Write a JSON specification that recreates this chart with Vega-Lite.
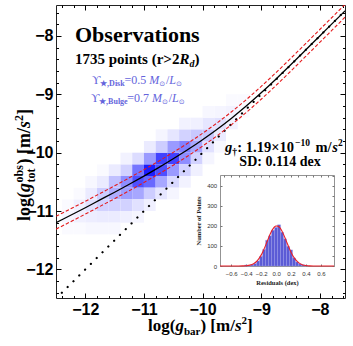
{
"$schema": "https://vega.github.io/schema/vega-lite/v6.json",
"width": 289, "height": 293,
"autosize": {"type": "none"},
"padding": {"left": 56, "top": 5, "right": 8, "bottom": 48},
"background": "white",
"config": {"view": {"stroke": "#222", "strokeWidth": 1}, "axis": {"grid": false}, "text": {"font": "Liberation Serif"}},
"datasets": {
"heat": [
{"lo_bar":-12.4,"hi_bar":-12.2,"lo_obs":-11.2,"hi_obs":-11.0,"n":4},
{"lo_bar":-12.4,"hi_bar":-12.2,"lo_obs":-11.0,"hi_obs":-10.8,"n":2},
{"lo_bar":-12.4,"hi_bar":-12.2,"lo_obs":-11.4,"hi_obs":-11.2,"n":2},
{"lo_bar":-12.2,"hi_bar":-12.0,"lo_obs":-11.2,"hi_obs":-11.0,"n":6},
{"lo_bar":-12.2,"hi_bar":-12.0,"lo_obs":-11.0,"hi_obs":-10.8,"n":6},
{"lo_bar":-12.2,"hi_bar":-12.0,"lo_obs":-10.8,"hi_obs":-10.6,"n":2},
{"lo_bar":-12.2,"hi_bar":-12.0,"lo_obs":-11.4,"hi_obs":-11.2,"n":2},
{"lo_bar":-12.0,"hi_bar":-11.8,"lo_obs":-11.0,"hi_obs":-10.8,"n":12},
{"lo_bar":-12.0,"hi_bar":-11.8,"lo_obs":-11.2,"hi_obs":-11.0,"n":7},
{"lo_bar":-12.0,"hi_bar":-11.8,"lo_obs":-10.8,"hi_obs":-10.6,"n":8},
{"lo_bar":-12.0,"hi_bar":-11.8,"lo_obs":-10.6,"hi_obs":-10.4,"n":3},
{"lo_bar":-12.0,"hi_bar":-11.8,"lo_obs":-11.4,"hi_obs":-11.2,"n":3},
{"lo_bar":-11.8,"hi_bar":-11.6,"lo_obs":-10.8,"hi_obs":-10.6,"n":20},
{"lo_bar":-11.8,"hi_bar":-11.6,"lo_obs":-11.0,"hi_obs":-10.8,"n":18},
{"lo_bar":-11.8,"hi_bar":-11.6,"lo_obs":-10.6,"hi_obs":-10.4,"n":8},
{"lo_bar":-11.8,"hi_bar":-11.6,"lo_obs":-11.2,"hi_obs":-11.0,"n":8},
{"lo_bar":-11.8,"hi_bar":-11.6,"lo_obs":-11.4,"hi_obs":-11.2,"n":3},
{"lo_bar":-11.8,"hi_bar":-11.6,"lo_obs":-10.4,"hi_obs":-10.2,"n":2},
{"lo_bar":-11.6,"hi_bar":-11.4,"lo_obs":-10.8,"hi_obs":-10.6,"n":32},
{"lo_bar":-11.6,"hi_bar":-11.4,"lo_obs":-10.6,"hi_obs":-10.4,"n":25},
{"lo_bar":-11.6,"hi_bar":-11.4,"lo_obs":-11.0,"hi_obs":-10.8,"n":18},
{"lo_bar":-11.6,"hi_bar":-11.4,"lo_obs":-10.4,"hi_obs":-10.2,"n":8},
{"lo_bar":-11.6,"hi_bar":-11.4,"lo_obs":-11.2,"hi_obs":-11.0,"n":8},
{"lo_bar":-11.6,"hi_bar":-11.4,"lo_obs":-11.4,"hi_obs":-11.2,"n":3},
{"lo_bar":-11.4,"hi_bar":-11.2,"lo_obs":-10.6,"hi_obs":-10.4,"n":45},
{"lo_bar":-11.4,"hi_bar":-11.2,"lo_obs":-10.8,"hi_obs":-10.6,"n":38},
{"lo_bar":-11.4,"hi_bar":-11.2,"lo_obs":-10.4,"hi_obs":-10.2,"n":18},
{"lo_bar":-11.4,"hi_bar":-11.2,"lo_obs":-11.0,"hi_obs":-10.8,"n":18},
{"lo_bar":-11.4,"hi_bar":-11.2,"lo_obs":-10.2,"hi_obs":-10.0,"n":5},
{"lo_bar":-11.4,"hi_bar":-11.2,"lo_obs":-11.2,"hi_obs":-11.0,"n":6},
{"lo_bar":-11.2,"hi_bar":-11.0,"lo_obs":-10.6,"hi_obs":-10.4,"n":70},
{"lo_bar":-11.2,"hi_bar":-11.0,"lo_obs":-10.4,"hi_obs":-10.2,"n":55},
{"lo_bar":-11.2,"hi_bar":-11.0,"lo_obs":-10.8,"hi_obs":-10.6,"n":35},
{"lo_bar":-11.2,"hi_bar":-11.0,"lo_obs":-10.2,"hi_obs":-10.0,"n":14},
{"lo_bar":-11.2,"hi_bar":-11.0,"lo_obs":-11.0,"hi_obs":-10.8,"n":12},
{"lo_bar":-11.2,"hi_bar":-11.0,"lo_obs":-11.2,"hi_obs":-11.0,"n":4},
{"lo_bar":-11.0,"hi_bar":-10.8,"lo_obs":-10.4,"hi_obs":-10.2,"n":90},
{"lo_bar":-11.0,"hi_bar":-10.8,"lo_obs":-10.6,"hi_obs":-10.4,"n":60},
{"lo_bar":-11.0,"hi_bar":-10.8,"lo_obs":-10.2,"hi_obs":-10.0,"n":40},
{"lo_bar":-11.0,"hi_bar":-10.8,"lo_obs":-10.8,"hi_obs":-10.6,"n":20},
{"lo_bar":-11.0,"hi_bar":-10.8,"lo_obs":-10.0,"hi_obs":-9.8,"n":8},
{"lo_bar":-11.0,"hi_bar":-10.8,"lo_obs":-11.0,"hi_obs":-10.8,"n":6},
{"lo_bar":-10.8,"hi_bar":-10.6,"lo_obs":-10.4,"hi_obs":-10.2,"n":70},
{"lo_bar":-10.8,"hi_bar":-10.6,"lo_obs":-10.2,"hi_obs":-10.0,"n":75},
{"lo_bar":-10.8,"hi_bar":-10.6,"lo_obs":-10.6,"hi_obs":-10.4,"n":35},
{"lo_bar":-10.8,"hi_bar":-10.6,"lo_obs":-10.0,"hi_obs":-9.8,"n":20},
{"lo_bar":-10.8,"hi_bar":-10.6,"lo_obs":-10.8,"hi_obs":-10.6,"n":10},
{"lo_bar":-10.8,"hi_bar":-10.6,"lo_obs":-9.8,"hi_obs":-9.6,"n":4},
{"lo_bar":-10.6,"hi_bar":-10.4,"lo_obs":-10.2,"hi_obs":-10.0,"n":75},
{"lo_bar":-10.6,"hi_bar":-10.4,"lo_obs":-10.4,"hi_obs":-10.2,"n":40},
{"lo_bar":-10.6,"hi_bar":-10.4,"lo_obs":-10.0,"hi_obs":-9.8,"n":40},
{"lo_bar":-10.6,"hi_bar":-10.4,"lo_obs":-10.6,"hi_obs":-10.4,"n":15},
{"lo_bar":-10.6,"hi_bar":-10.4,"lo_obs":-9.8,"hi_obs":-9.6,"n":10},
{"lo_bar":-10.6,"hi_bar":-10.4,"lo_obs":-10.8,"hi_obs":-10.6,"n":4},
{"lo_bar":-10.4,"hi_bar":-10.2,"lo_obs":-10.0,"hi_obs":-9.8,"n":50},
{"lo_bar":-10.4,"hi_bar":-10.2,"lo_obs":-10.2,"hi_obs":-10.0,"n":45},
{"lo_bar":-10.4,"hi_bar":-10.2,"lo_obs":-9.8,"hi_obs":-9.6,"n":18},
{"lo_bar":-10.4,"hi_bar":-10.2,"lo_obs":-10.4,"hi_obs":-10.2,"n":18},
{"lo_bar":-10.4,"hi_bar":-10.2,"lo_obs":-9.6,"hi_obs":-9.4,"n":5},
{"lo_bar":-10.4,"hi_bar":-10.2,"lo_obs":-10.6,"hi_obs":-10.4,"n":5},
{"lo_bar":-10.2,"hi_bar":-10.0,"lo_obs":-10.0,"hi_obs":-9.8,"n":35},
{"lo_bar":-10.2,"hi_bar":-10.0,"lo_obs":-9.8,"hi_obs":-9.6,"n":22},
{"lo_bar":-10.2,"hi_bar":-10.0,"lo_obs":-10.2,"hi_obs":-10.0,"n":18},
{"lo_bar":-10.2,"hi_bar":-10.0,"lo_obs":-9.6,"hi_obs":-9.4,"n":6},
{"lo_bar":-10.2,"hi_bar":-10.0,"lo_obs":-10.4,"hi_obs":-10.2,"n":6},
{"lo_bar":-10.0,"hi_bar":-9.8,"lo_obs":-9.8,"hi_obs":-9.6,"n":22},
{"lo_bar":-10.0,"hi_bar":-9.8,"lo_obs":-9.6,"hi_obs":-9.4,"n":10},
{"lo_bar":-10.0,"hi_bar":-9.8,"lo_obs":-10.0,"hi_obs":-9.8,"n":12},
{"lo_bar":-10.0,"hi_bar":-9.8,"lo_obs":-9.4,"hi_obs":-9.2,"n":3},
{"lo_bar":-10.0,"hi_bar":-9.8,"lo_obs":-10.2,"hi_obs":-10.0,"n":4},
{"lo_bar":-9.8,"hi_bar":-9.6,"lo_obs":-9.6,"hi_obs":-9.4,"n":12},
{"lo_bar":-9.8,"hi_bar":-9.6,"lo_obs":-9.8,"hi_obs":-9.6,"n":8},
{"lo_bar":-9.8,"hi_bar":-9.6,"lo_obs":-9.4,"hi_obs":-9.2,"n":4},
{"lo_bar":-9.8,"hi_bar":-9.6,"lo_obs":-10.0,"hi_obs":-9.8,"n":3},
{"lo_bar":-9.6,"hi_bar":-9.4,"lo_obs":-9.6,"hi_obs":-9.4,"n":5},
{"lo_bar":-9.6,"hi_bar":-9.4,"lo_obs":-9.4,"hi_obs":-9.2,"n":5},
{"lo_bar":-9.6,"hi_bar":-9.4,"lo_obs":-9.2,"hi_obs":-9.0,"n":2},
{"lo_bar":-9.4,"hi_bar":-9.2,"lo_obs":-9.4,"hi_obs":-9.2,"n":2},
{"lo_bar":-9.4,"hi_bar":-9.2,"lo_obs":-9.2,"hi_obs":-9.0,"n":2}
],
"curve": [
{"gbar":-12.5,"gobs":-11.201,"upper":-11.091,"lower":-11.311},
{"gbar":-12.25,"gobs":-11.072,"upper":-10.962,"lower":-11.182},
{"gbar":-12.0,"gobs":-10.943,"upper":-10.833,"lower":-11.053},
{"gbar":-11.75,"gobs":-10.810,"upper":-10.700,"lower":-10.920},
{"gbar":-11.5,"gobs":-10.678,"upper":-10.568,"lower":-10.788},
{"gbar":-11.25,"gobs":-10.541,"upper":-10.431,"lower":-10.651},
{"gbar":-11.0,"gobs":-10.401,"upper":-10.291,"lower":-10.511},
{"gbar":-10.75,"gobs":-10.256,"upper":-10.146,"lower":-10.366},
{"gbar":-10.5,"gobs":-10.105,"upper":-9.995,"lower":-10.215},
{"gbar":-10.25,"gobs":-9.947,"upper":-9.837,"lower":-10.057},
{"gbar":-10.0,"gobs":-9.778,"upper":-9.668,"lower":-9.888},
{"gbar":-9.75,"gobs":-9.599,"upper":-9.489,"lower":-9.709},
{"gbar":-9.5,"gobs":-9.405,"upper":-9.295,"lower":-9.515},
{"gbar":-9.25,"gobs":-9.198,"upper":-9.088,"lower":-9.308},
{"gbar":-9.0,"gobs":-8.975,"upper":-8.865,"lower":-9.085},
{"gbar":-8.75,"gobs":-8.741,"upper":-8.631,"lower":-8.851},
{"gbar":-8.5,"gobs":-8.498,"upper":-8.388,"lower":-8.608},
{"gbar":-8.25,"gobs":-8.250,"upper":-8.140,"lower":-8.360},
{"gbar":-8.0,"gobs":-8.000,"upper":-7.890,"lower":-8.110},
{"gbar":-7.75,"gobs":-7.750,"upper":-7.640,"lower":-7.860},
{"gbar":-7.57,"gobs":-7.570,"upper":-7.460,"lower":-7.680}
],
"unity": [{"gbar":-12.5,"gobs":-12.5},{"gbar":-7.57,"gobs":-7.57}],
"hist": [
{"lo":-0.42,"hi":-0.38,"count":5},{"lo":-0.38,"hi":-0.34,"count":2},{"lo":-0.34,"hi":-0.30,"count":6},
{"lo":-0.30,"hi":-0.26,"count":12},{"lo":-0.26,"hi":-0.22,"count":25},{"lo":-0.22,"hi":-0.18,"count":48},
{"lo":-0.18,"hi":-0.14,"count":82},{"lo":-0.14,"hi":-0.10,"count":128},{"lo":-0.10,"hi":-0.06,"count":150},
{"lo":-0.06,"hi":-0.02,"count":178},{"lo":-0.02,"hi":0.02,"count":192},{"lo":0.02,"hi":0.06,"count":205},
{"lo":0.06,"hi":0.10,"count":168},{"lo":0.10,"hi":0.14,"count":135},{"lo":0.14,"hi":0.18,"count":98},
{"lo":0.18,"hi":0.22,"count":80},{"lo":0.22,"hi":0.26,"count":40},{"lo":0.26,"hi":0.30,"count":20},
{"lo":0.30,"hi":0.34,"count":10},{"lo":0.34,"hi":0.38,"count":6},{"lo":0.38,"hi":0.42,"count":3}
],
"gauss": [
{"resid":-0.75,"count":0},{"resid":-0.6,"count":0},{"resid":-0.55,"count":0.02},{"resid":-0.5,"count":0.09},
{"resid":-0.45,"count":0.38},{"resid":-0.4,"count":1.4},{"resid":-0.35,"count":4.3},{"resid":-0.3,"count":11.6},
{"resid":-0.25,"count":27.1},{"resid":-0.2,"count":54.2},{"resid":-0.175,"count":72.7},{"resid":-0.15,"count":93.8},
{"resid":-0.125,"count":116.7},{"resid":-0.1,"count":139.8},{"resid":-0.075,"count":161.5},{"resid":-0.05,"count":179.8},
{"resid":-0.025,"count":192.9},{"resid":0,"count":199.4},{"resid":0.025,"count":198.7},{"resid":0.05,"count":190.8},
{"resid":0.075,"count":176.5},{"resid":0.1,"count":157.4},{"resid":0.125,"count":135.2},{"resid":0.15,"count":112.0},
{"resid":0.175,"count":89.4},{"resid":0.2,"count":68.7},{"resid":0.25,"count":36.4},{"resid":0.3,"count":16.6},
{"resid":0.35,"count":6.5},{"resid":0.4,"count":2.2},{"resid":0.45,"count":0.65},{"resid":0.5,"count":0.16},
{"resid":0.55,"count":0.03},{"resid":0.6,"count":0},{"resid":0.775,"count":0}
]
},
"layer": [
{
"layer": [
{"data": {"name": "heat"}, "mark": {"type": "rect"},
 "encoding": {
  "x": {"field": "lo_bar", "type": "quantitative", "scale": {"domain": [-12.5, -7.57], "nice": false, "zero": false},
        "axis": {"orient": "bottom", "values": [-12,-11,-10,-9,-8], "format": "d", "tickSize": -5, "labelPadding": 8.8, "title": null, "domain": false, "grid": false, "labelFont": "Liberation Sans", "labelFontWeight": "bold", "labelFontSize": 16, "labelColor": "#000", "tickColor": "#000", "labelOverlap": false, "labelFlush": false}},
  "x2": {"field": "hi_bar"},
  "y": {"field": "lo_obs", "type": "quantitative", "scale": {"domain": [-12.49, -7.47], "nice": false, "zero": false},
        "axis": {"orient": "left", "values": [-12,-11,-10,-9,-8], "format": "d", "tickSize": -5, "labelPadding": 8, "title": null, "domain": false, "grid": false, "labelFont": "Liberation Sans", "labelFontWeight": "bold", "labelFontSize": 16, "labelColor": "#000", "tickColor": "#000", "labelOverlap": false, "labelFlush": false}},
  "y2": {"field": "hi_obs"},
  "color": {"field": "n", "type": "quantitative", "scale": {"domain": [0, 95], "range": ["#ffffff", "#1010ff"], "interpolate": "rgb"}, "legend": null}
 }},
{"data": {"name": "unity"}, "mark": {"type": "line", "clip": true, "color": "#000", "strokeWidth": 2.2, "strokeDash": [0.1, 8.1], "strokeCap": "round"},
 "encoding": {
  "x": {"field": "gbar", "type": "quantitative", "scale": {"domain": [-12.5, -7.57], "nice": false, "zero": false}, "axis": null},
  "y": {"field": "gobs", "type": "quantitative", "scale": {"domain": [-12.49, -7.47], "nice": false, "zero": false}, "axis": null}
 }},
{"data": {"name": "curve"}, "mark": {"type": "line", "clip": true, "color": "#e41a1c", "strokeWidth": 1.1, "strokeDash": [3.5, 2], "interpolate": "monotone"},
 "encoding": {
  "x": {"field": "gbar", "type": "quantitative", "scale": {"domain": [-12.5, -7.57], "nice": false, "zero": false},
        "axis": {"orient": "bottom", "values": [-12.4,-12.2,-11.8,-11.6,-11.4,-11.2,-10.8,-10.6,-10.4,-10.2,-9.8,-9.6,-9.4,-9.2,-8.8,-8.6,-8.4,-8.2,-7.8,-7.6], "tickSize": -2.5, "labels": false, "title": null, "domain": false, "grid": false, "tickColor": "#000"}},
  "y": {"field": "upper", "type": "quantitative", "scale": {"domain": [-12.49, -7.47], "nice": false, "zero": false},
        "axis": {"orient": "left", "values": [-12.4,-12.2,-11.8,-11.6,-11.4,-11.2,-10.8,-10.6,-10.4,-10.2,-9.8,-9.6,-9.4,-9.2,-8.8,-8.6,-8.4,-8.2,-7.8,-7.6], "tickSize": -2.5, "labels": false, "title": null, "domain": false, "grid": false, "tickColor": "#000"}}
 }},
{"data": {"name": "curve"}, "mark": {"type": "line", "clip": true, "color": "#e41a1c", "strokeWidth": 1.1, "strokeDash": [3.5, 2], "interpolate": "monotone"},
 "encoding": {
  "x": {"field": "gbar", "type": "quantitative", "scale": {"domain": [-12.5, -7.57], "nice": false, "zero": false},
        "axis": {"orient": "top", "values": [-12.4,-12.2,-11.8,-11.6,-11.4,-11.2,-10.8,-10.6,-10.4,-10.2,-9.8,-9.6,-9.4,-9.2,-8.8,-8.6,-8.4,-8.2,-7.8,-7.6], "tickSize": -2.5, "labels": false, "title": null, "domain": false, "grid": false, "tickColor": "#000"}},
  "y": {"field": "lower", "type": "quantitative", "scale": {"domain": [-12.49, -7.47], "nice": false, "zero": false},
        "axis": {"orient": "right", "values": [-12.4,-12.2,-11.8,-11.6,-11.4,-11.2,-10.8,-10.6,-10.4,-10.2,-9.8,-9.6,-9.4,-9.2,-8.8,-8.6,-8.4,-8.2,-7.8,-7.6], "tickSize": -2.5, "labels": false, "title": null, "domain": false, "grid": false, "tickColor": "#000"}}
 }},
{"data": {"name": "curve"}, "mark": {"type": "line", "clip": true, "color": "#000", "strokeWidth": 1.3, "interpolate": "monotone"},
 "encoding": {
  "x": {"field": "gbar", "type": "quantitative", "scale": {"domain": [-12.5, -7.57], "nice": false, "zero": false},
        "axis": {"orient": "top", "values": [-12,-11,-10,-9,-8], "tickSize": -5, "labels": false, "title": null, "domain": false, "grid": false, "tickColor": "#000"}},
  "y": {"field": "gobs", "type": "quantitative", "scale": {"domain": [-12.49, -7.47], "nice": false, "zero": false},
        "axis": {"orient": "right", "values": [-12,-11,-10,-9,-8], "tickSize": -5, "labels": false, "title": null, "domain": false, "grid": false, "tickColor": "#000"}}
 }},
{"data": {"values": [{}]},
 "encoding": {"x": {"datum": -12.1759, "type": "quantitative", "scale": {"domain": [-12.5, -7.57], "nice": false, "zero": false}, "axis": null},
              "y": {"datum": -8.1039, "type": "quantitative", "scale": {"domain": [-12.49, -7.47], "nice": false, "zero": false}, "axis": null}},
 "layer": [{"mark": {"type": "text", "text": "Observations", "font": "Liberation Serif", "fontSize": 22, "fontWeight": "bold", "align": "left", "baseline": "alphabetic", "color": "#000"}}]},
{"data": {"values": [{}]},
 "encoding": {"x": {"datum": -12.1759, "type": "quantitative", "scale": {"domain": [-12.5, -7.57], "nice": false, "zero": false}, "axis": null},
              "y": {"datum": -8.4808, "type": "quantitative", "scale": {"domain": [-12.49, -7.47], "nice": false, "zero": false}, "axis": null}},
 "layer": [
  {"mark": {"type": "text", "text": "1735 points (r>2", "font": "Liberation Serif", "fontSize": 15, "fontWeight": "bold", "align": "left", "baseline": "alphabetic", "color": "#000"}},
  {"mark": {"type": "text", "text": "R", "font": "Liberation Serif", "fontSize": 15, "fontWeight": "bold", "fontStyle": "italic", "align": "left", "baseline": "alphabetic", "dx": 104.4, "color": "#000"}},
  {"mark": {"type": "text", "text": "d", "font": "Liberation Serif", "fontSize": 10, "fontWeight": "bold", "fontStyle": "italic", "align": "left", "baseline": "alphabetic", "dx": 114.4, "dy": 3, "color": "#000"}},
  {"mark": {"type": "text", "text": ")", "font": "Liberation Serif", "fontSize": 15, "fontWeight": "bold", "align": "left", "baseline": "alphabetic", "dx": 119.4, "color": "#000"}}
 ]},
{"data": {"values": [{}]},
 "encoding": {"x": {"datum": -11.891, "type": "quantitative", "scale": {"domain": [-12.5, -7.57], "nice": false, "zero": false}, "axis": null},
              "y": {"datum": -8.8234, "type": "quantitative", "scale": {"domain": [-12.49, -7.47], "nice": false, "zero": false}, "axis": null}},
 "layer": [
  {"mark": {"type": "text", "text": "ϒ", "font": "Liberation Serif", "fontSize": 12, "align": "left", "baseline": "alphabetic", "color": "#6464dc"}},
  {"mark": {"type": "text", "text": "★,Disk", "font": "Liberation Serif", "fontSize": 8, "fontWeight": "bold", "align": "left", "baseline": "alphabetic", "dx": 8.4, "dy": 2.5, "color": "#6464dc"}},
  {"mark": {"type": "text", "text": "=0.5", "font": "Liberation Serif", "fontSize": 12, "align": "left", "baseline": "alphabetic", "dx": 32.7, "color": "#6464dc"}},
  {"mark": {"type": "text", "text": "M", "font": "Liberation Serif", "fontSize": 12, "fontStyle": "italic", "align": "left", "baseline": "alphabetic", "dx": 57.5, "color": "#6464dc"}},
  {"mark": {"type": "text", "text": "⊙", "font": "DejaVu Sans", "fontSize": 7, "align": "left", "baseline": "alphabetic", "dx": 67.5, "dy": 2.5, "color": "#6464dc"}},
  {"mark": {"type": "text", "text": "/", "font": "Liberation Serif", "fontSize": 12, "align": "left", "baseline": "alphabetic", "dx": 74.2, "color": "#6464dc"}},
  {"mark": {"type": "text", "text": "L", "font": "Liberation Serif", "fontSize": 12, "fontStyle": "italic", "align": "left", "baseline": "alphabetic", "dx": 77.5, "color": "#6464dc"}},
  {"mark": {"type": "text", "text": "⊙", "font": "DejaVu Sans", "fontSize": 7, "align": "left", "baseline": "alphabetic", "dx": 84.2, "dy": 2.5, "color": "#6464dc"}}
 ]},
{"data": {"values": [{}]},
 "encoding": {"x": {"datum": -11.908, "type": "quantitative", "scale": {"domain": [-12.5, -7.57], "nice": false, "zero": false}, "axis": null},
              "y": {"datum": -9.1318, "type": "quantitative", "scale": {"domain": [-12.49, -7.47], "nice": false, "zero": false}, "axis": null}},
 "layer": [
  {"mark": {"type": "text", "text": "ϒ", "font": "Liberation Serif", "fontSize": 12, "align": "left", "baseline": "alphabetic", "color": "#6464dc"}},
  {"mark": {"type": "text", "text": "★,Bulge", "font": "Liberation Serif", "fontSize": 8, "fontWeight": "bold", "align": "left", "baseline": "alphabetic", "dx": 8.4, "dy": 2.5, "color": "#6464dc"}},
  {"mark": {"type": "text", "text": "=0.7", "font": "Liberation Serif", "fontSize": 12, "align": "left", "baseline": "alphabetic", "dx": 36.6, "color": "#6464dc"}},
  {"mark": {"type": "text", "text": "M", "font": "Liberation Serif", "fontSize": 12, "fontStyle": "italic", "align": "left", "baseline": "alphabetic", "dx": 61.4, "color": "#6464dc"}},
  {"mark": {"type": "text", "text": "⊙", "font": "DejaVu Sans", "fontSize": 7, "align": "left", "baseline": "alphabetic", "dx": 71.4, "dy": 2.5, "color": "#6464dc"}},
  {"mark": {"type": "text", "text": "/", "font": "Liberation Serif", "fontSize": 12, "align": "left", "baseline": "alphabetic", "dx": 78.1, "color": "#6464dc"}},
  {"mark": {"type": "text", "text": "L", "font": "Liberation Serif", "fontSize": 12, "fontStyle": "italic", "align": "left", "baseline": "alphabetic", "dx": 81.4, "color": "#6464dc"}},
  {"mark": {"type": "text", "text": "⊙", "font": "DejaVu Sans", "fontSize": 7, "align": "left", "baseline": "alphabetic", "dx": 88.1, "dy": 2.5, "color": "#6464dc"}}
 ]},
{"data": {"values": [{}]},
 "encoding": {"x": {"datum": -9.617, "type": "quantitative", "scale": {"domain": [-12.5, -7.57], "nice": false, "zero": false}, "axis": null},
              "y": {"datum": -9.99, "type": "quantitative", "scale": {"domain": [-12.49, -7.47], "nice": false, "zero": false}, "axis": null}},
 "layer": [
  {"mark": {"type": "text", "text": "g", "font": "Liberation Serif", "fontSize": 14.5, "fontWeight": "bold", "fontStyle": "italic", "align": "left", "baseline": "alphabetic", "color": "#000"}},
  {"mark": {"type": "text", "text": "†", "font": "Liberation Serif", "fontSize": 9.5, "fontWeight": "bold", "align": "left", "baseline": "alphabetic", "dx": 7.3, "dy": 2.5, "color": "#000"}},
  {"mark": {"type": "text", "text": ": 1.19×10", "font": "Liberation Serif", "fontSize": 14.5, "fontWeight": "bold", "align": "left", "baseline": "alphabetic", "dx": 12.3, "color": "#000"}},
  {"mark": {"type": "text", "text": "−10", "font": "Liberation Serif", "fontSize": 9.5, "fontWeight": "bold", "align": "left", "baseline": "alphabetic", "dx": 70, "dy": -6, "color": "#000"}},
  {"mark": {"type": "text", "text": "m/", "font": "Liberation Serif", "fontSize": 14.5, "fontWeight": "bold", "align": "left", "baseline": "alphabetic", "dx": 90.5, "color": "#000"}},
  {"mark": {"type": "text", "text": "s", "font": "Liberation Serif", "fontSize": 14.5, "fontWeight": "bold", "fontStyle": "italic", "align": "left", "baseline": "alphabetic", "dx": 107.2, "color": "#000"}},
  {"mark": {"type": "text", "text": "2", "font": "Liberation Serif", "fontSize": 9.5, "fontWeight": "bold", "align": "left", "baseline": "alphabetic", "dx": 113, "dy": -6, "color": "#000"}}
 ]},
{"data": {"values": [{}]},
 "encoding": {"x": {"datum": -8.679, "type": "quantitative", "scale": {"domain": [-12.5, -7.57], "nice": false, "zero": false}, "axis": null},
              "y": {"datum": -10.235, "type": "quantitative", "scale": {"domain": [-12.49, -7.47], "nice": false, "zero": false}, "axis": null}},
 "layer": [{"mark": {"type": "text", "text": "SD: 0.114 dex", "font": "Liberation Serif", "fontSize": 14, "fontWeight": "bold", "align": "center", "baseline": "alphabetic", "color": "#000"}}]},
{"data": {"values": [{}]},
 "encoding": {"x": {"datum": -10.9306, "type": "quantitative", "scale": {"domain": [-12.5, -7.57], "nice": false, "zero": false}, "axis": null},
              "y": {"datum": -13.055, "type": "quantitative", "scale": {"domain": [-12.49, -7.47], "nice": false, "zero": false}, "axis": null}},
 "layer": [
  {"mark": {"type": "text", "text": "log(", "font": "Liberation Serif", "fontSize": 17, "fontWeight": "bold", "align": "left", "baseline": "alphabetic", "color": "#000"}},
  {"mark": {"type": "text", "text": "g", "font": "Liberation Serif", "fontSize": 17, "fontWeight": "bold", "fontStyle": "italic", "align": "left", "baseline": "alphabetic", "dx": 27.4, "color": "#000"}},
  {"mark": {"type": "text", "text": "bar", "font": "Liberation Serif", "fontSize": 11, "fontWeight": "bold", "align": "left", "baseline": "alphabetic", "dx": 35.9, "dy": 4, "color": "#000"}},
  {"mark": {"type": "text", "text": ") [m/", "font": "Liberation Serif", "fontSize": 17, "fontWeight": "bold", "align": "left", "baseline": "alphabetic", "dx": 52.4, "color": "#000"}},
  {"mark": {"type": "text", "text": "s", "font": "Liberation Serif", "fontSize": 17, "fontWeight": "bold", "fontStyle": "italic", "align": "left", "baseline": "alphabetic", "dx": 86.9, "color": "#000"}},
  {"mark": {"type": "text", "text": "2", "font": "Liberation Serif", "fontSize": 11, "fontWeight": "bold", "align": "left", "baseline": "alphabetic", "dx": 93.5, "dy": -7, "color": "#000"}},
  {"mark": {"type": "text", "text": "]", "font": "Liberation Serif", "fontSize": 17, "fontWeight": "bold", "align": "left", "baseline": "alphabetic", "dx": 99.0, "color": "#000"}}
 ]},
{"data": {"values": [{}]},
 "encoding": {"x": {"datum": -12.9435, "type": "quantitative", "scale": {"domain": [-12.5, -7.57], "nice": false, "zero": false}, "axis": null},
              "y": {"datum": -11.17, "type": "quantitative", "scale": {"domain": [-12.49, -7.47], "nice": false, "zero": false}, "axis": null}},
 "layer": [
  {"mark": {"type": "text", "text": "log(", "angle": 270, "font": "Liberation Serif", "fontSize": 18, "fontWeight": "bold", "align": "left", "baseline": "alphabetic", "color": "#000"}},
  {"mark": {"type": "text", "text": "g", "angle": 270, "font": "Liberation Serif", "fontSize": 18, "fontWeight": "bold", "fontStyle": "italic", "align": "left", "baseline": "alphabetic", "dx": 29, "color": "#000"}},
  {"mark": {"type": "text", "text": "obs", "angle": 270, "font": "Liberation Serif", "fontSize": 12, "fontWeight": "bold", "align": "left", "baseline": "alphabetic", "dx": 38.5, "dy": -7.5, "color": "#000"}},
  {"mark": {"type": "text", "text": "tot", "angle": 270, "font": "Liberation Serif", "fontSize": 12, "fontWeight": "bold", "align": "left", "baseline": "alphabetic", "dx": 38.5, "dy": 4.5, "color": "#000"}},
  {"mark": {"type": "text", "text": ") [m/", "angle": 270, "font": "Liberation Serif", "fontSize": 18, "fontWeight": "bold", "align": "left", "baseline": "alphabetic", "dx": 56.5, "color": "#000"}},
  {"mark": {"type": "text", "text": "s", "angle": 270, "font": "Liberation Serif", "fontSize": 18, "fontWeight": "bold", "fontStyle": "italic", "align": "left", "baseline": "alphabetic", "dx": 93, "color": "#000"}},
  {"mark": {"type": "text", "text": "2", "angle": 270, "font": "Liberation Serif", "fontSize": 12, "fontWeight": "bold", "align": "left", "baseline": "alphabetic", "dx": 100, "dy": -7.5, "color": "#000"}},
  {"mark": {"type": "text", "text": "]", "angle": 270, "font": "Liberation Serif", "fontSize": 18, "fontWeight": "bold", "align": "left", "baseline": "alphabetic", "dx": 106, "color": "#000"}}
 ]}
],
"resolve": {"axis": {"x": "independent", "y": "independent"}}
},
{
"layer": [
{"data": {"name": "hist"}, "mark": {"type": "rect", "fill": "#5b5bd6", "stroke": "#9b9be8", "strokeWidth": 0.4},
 "encoding": {
  "x": {"field": "lo", "type": "quantitative", "scale": {"domain": [-0.75, 0.775], "range": [164, 278], "nice": false, "zero": false},
        "axis": {"orient": "bottom", "offset": -32, "values": [-0.6,-0.4,-0.2,0,0.2,0.4,0.6], "format": ".1f", "tickSize": -2, "labelPadding": 6.5, "domain": true, "domainColor": "#777", "domainWidth": 0.8, "tickColor": "#777", "labelFont": "Liberation Sans", "labelFontSize": 6, "labelColor": "#333", "labelOverlap": false, "labelFlush": false, "grid": false, "title": "Residuals (dex)", "titleFont": "Liberation Serif", "titleFontSize": 6.5, "titleFontWeight": "bold", "titleColor": "#222", "titlePadding": 3}},
  "x2": {"field": "hi"},
  "y": {"field": "count", "type": "quantitative", "scale": {"domain": [0, 453], "range": [261, 170], "nice": false, "zero": false},
        "axis": {"orient": "left", "offset": -164, "values": [0,100,200,300,400], "tickSize": -2, "labelPadding": 5.3, "domain": true, "domainColor": "#777", "domainWidth": 0.8, "tickColor": "#777", "labelFont": "Liberation Sans", "labelFontSize": 6, "labelColor": "#333", "labelOverlap": false, "labelFlush": false, "grid": false, "title": "Number of Points", "titleFont": "Liberation Serif", "titleFontSize": 6.5, "titleFontWeight": "bold", "titleColor": "#222", "titlePadding": 5}},
  "y2": {"datum": 0}
 }},
{"data": {"name": "gauss"}, "mark": {"type": "line", "color": "#e8202a", "strokeWidth": 1.1, "interpolate": "monotone"},
 "encoding": {
  "x": {"field": "resid", "type": "quantitative", "scale": {"domain": [-0.75, 0.775], "range": [164, 278], "nice": false, "zero": false},
        "axis": {"orient": "top", "offset": -170, "values": [-0.7,-0.6,-0.5,-0.4,-0.3,-0.2,-0.1,0,0.1,0.2,0.3,0.4,0.5,0.6,0.7], "tickSize": -2, "labels": false, "domain": true, "domainColor": "#777", "domainWidth": 0.8, "tickColor": "#777", "grid": false, "title": null}},
  "y": {"field": "count", "type": "quantitative", "scale": {"domain": [0, 453], "range": [261, 170], "nice": false, "zero": false},
        "axis": {"orient": "right", "offset": -11, "values": [0,50,100,150,200,250,300,350,400,450], "tickSize": -2, "labels": false, "domain": true, "domainColor": "#777", "domainWidth": 0.8, "tickColor": "#777", "grid": false, "title": null}}
 }}
],
"resolve": {"axis": {"x": "independent", "y": "independent"}}
}
],
"resolve": {"scale": {"x": "independent", "y": "independent", "color": "independent"}}
}
